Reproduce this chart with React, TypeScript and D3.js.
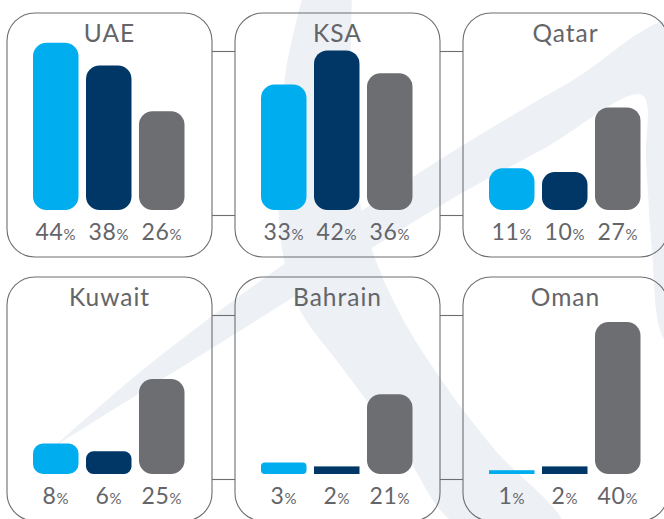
import React from "react";
import * as d3 from "d3";

const countries = ["UAE", "KSA", "Qatar", "Kuwait", "Bahrain", "Oman"];
const seriesKeys = ["a", "b", "c"];
const valuesA = [44, 33, 11, 8, 3, 1];
const valuesB = [38, 42, 10, 6, 2, 2];
const valuesC = [26, 36, 27, 25, 21, 40];

const W = 664;
const H = 519;
const colors = ["#00aeef", "#003767", "#6d6e71"];
const textColor = "#646569";
const font = "'Lato', 'Open Sans', 'DejaVu Sans', sans-serif";

// decorative watermark (logo) outlines
const crescentLeft: [number, number][] = [
  [303, -5], [286, 70], [278, 170], [283, 255], [300, 310], [340, 365], [400, 445], [458, 525],
];
const crescentRight: [number, number][] = [
  [562, 525], [495, 450], [445, 385], [398, 310], [366, 230], [352, 130], [352, -5],
];
const swooshUpper: [number, number][] = [
  [55, 446], [140, 372], [230, 303], [345, 222], [460, 147], [570, 82], [680, 22],
];
const swooshLower: [number, number][] = [
  [690, 370], [662, 335], [652, 250], [646, 160], [642, 95], [545, 148], [450, 200], [340, 268], [230, 337], [140, 393], [55, 446],
];

export default function App() {
  const panelW = 205;
  const panelH = 244;
  const colX = d3.scaleOrdinal<number, number>().domain([0, 1, 2]).range([7, 235, 463]);
  const rowY = d3.scaleOrdinal<number, number>().domain([0, 1]).range([13, 277]);
  const y = d3.scaleLinear().domain([0, 50]).range([0, 190]);

  const line = d3.line().curve(d3.curveCatmullRom.alpha(0.5));
  const crescentPath = line([...crescentLeft, ...crescentRight]) + "Z";
  const swooshPath = line([...swooshUpper, ...swooshLower]) + "Z";

  const panels = countries.map((c, i) => {
    const col = i % 3;
    const row = Math.floor(i / 3);
    const px = colX(col);
    const py = rowY(row);
    const vals = [valuesA[i], valuesB[i], valuesC[i]];
    const x = d3
      .scaleBand<string>()
      .domain(seriesKeys)
      .range([px + 26, px + 26 + 151.5])
      .paddingInner(7.5 / 53)
      .paddingOuter(0);
    const base = py + 197;
    return { c, col, row, px, py, vals, x, base };
  });

  return (
    <svg width={W} height={H} style={{ position: "absolute", left: 0, top: 0, background: "#fff" }}>
      <rect x={0} y={0} width={W} height={H} fill="#ffffff" />
      <path d={crescentPath} fill="#edf0f4" />
      <path d={swooshPath} fill="#edf0f4" />
      {panels.map((p) =>
        p.col < 2 ? (
          <g key={"con" + p.c} stroke="#6d6e71" strokeWidth={1.1}>
            <line x1={p.px + panelW} x2={colX(p.col + 1)} y1={p.py + 38.5} y2={p.py + 38.5} />
            <line x1={p.px + panelW} x2={colX(p.col + 1)} y1={p.py + 202.5} y2={p.py + 202.5} />
          </g>
        ) : null
      )}
      {panels.map((p) => (
        <g key={p.c}>
          <rect
            x={p.px}
            y={p.py}
            width={panelW}
            height={panelH}
            rx={28}
            ry={28}
            fill="none"
            stroke="#6d6e71"
            strokeWidth={1.1}
          />
          <text
            x={p.px + panelW / 2}
            y={p.py + 29}
            textAnchor="middle"
            fontFamily={font}
            fontWeight={400}
            fontSize={24.5}
            fill={textColor}
            letterSpacing={1}
          >
            {p.c}
          </text>
          {p.vals.map((v, j) => {
            const h = y(v);
            const bx = p.x(seriesKeys[j])!;
            const bw = p.x.bandwidth();
            const r = h < 9 ? 0 : Math.min(13.5, h * 0.33);
            return (
              <g key={j}>
                <rect x={bx} y={p.base - h} width={bw} height={h} rx={r} ry={r} fill={colors[j]} />
                <text
                  x={bx + bw / 2}
                  y={p.py + 227}
                  textAnchor="middle"
                  fontFamily={font}
                  fontWeight={400}
                  fontSize={23}
                  letterSpacing={0.6}
                  fill={textColor}
                >
                  {v}
                  <tspan fontSize={15}>%</tspan>
                </text>
              </g>
            );
          })}
        </g>
      ))}
    </svg>
  );
}
